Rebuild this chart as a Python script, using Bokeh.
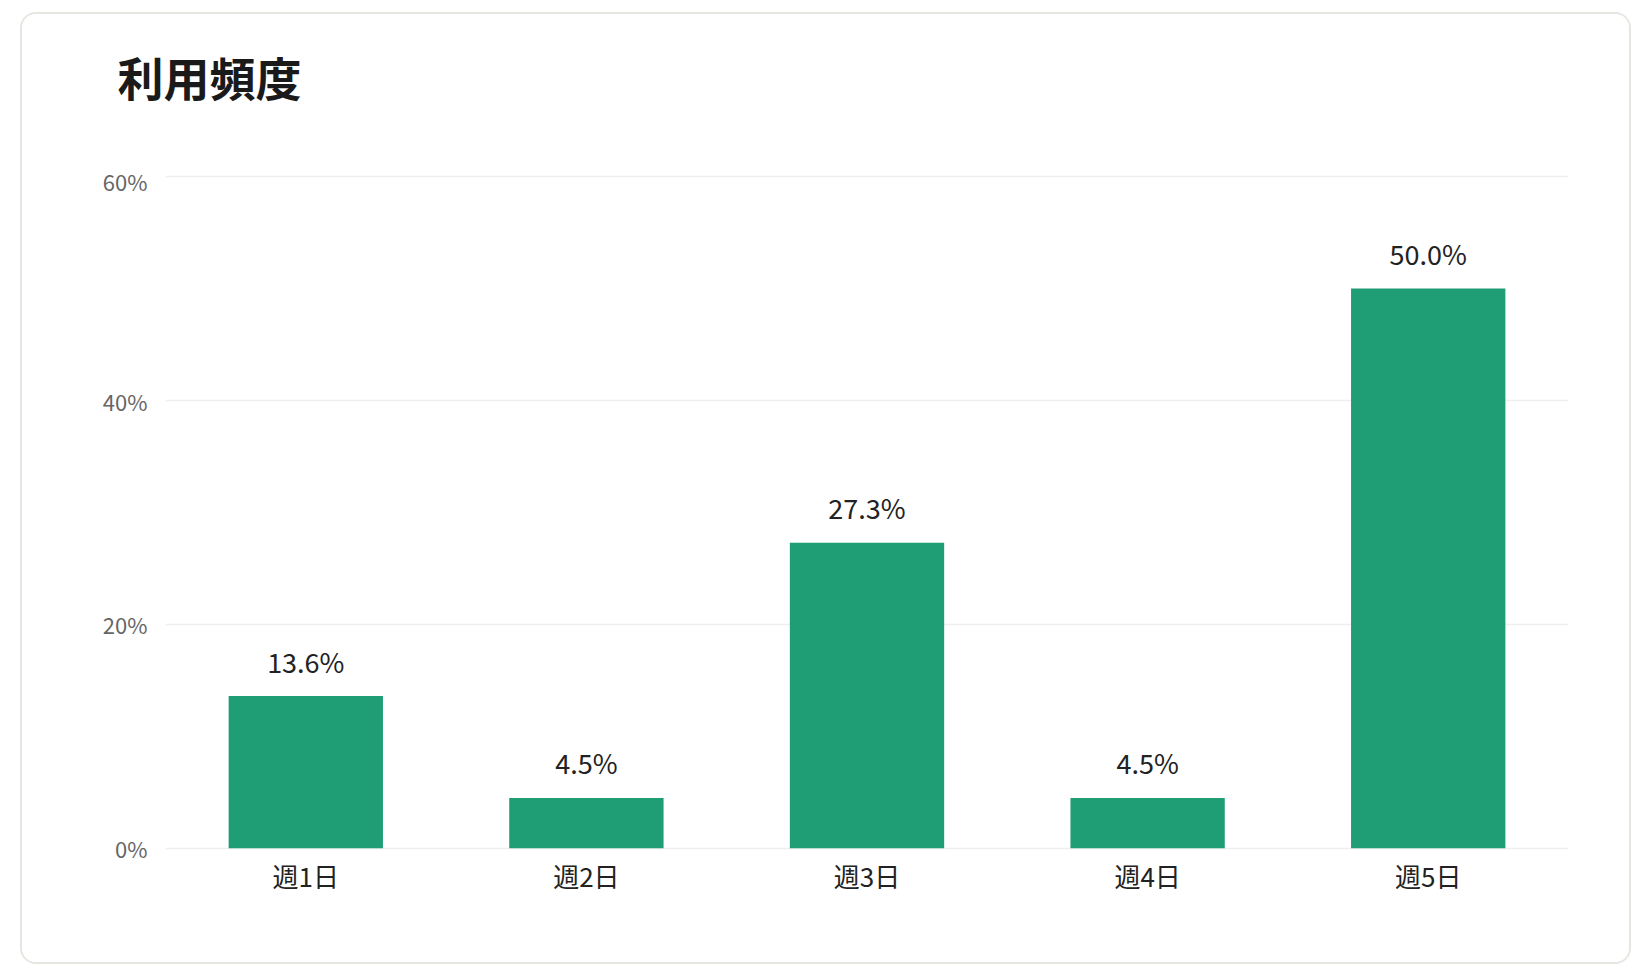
from bokeh.plotting import figure
from bokeh.layouts import column
from bokeh.models import FactorRange, Range1d, ColumnDataSource, FixedTicker, CustomJSTickFormatter
from bokeh.core.properties import value
from bokeh.embed import file_html
from bokeh.resources import INLINE

title_text = "利用頻度"
categories = ["週1日", "週2日", "週3日", "週4日", "週5日"]
percentages = [13.6, 4.5, 27.3, 4.5, 50.0]
y_ticks = [0, 20, 40, 60]

FONT = "Noto Sans CJK JP"
BAR_COLOR = "#1f9e76"

labels = [f"{v:.1f}%" for v in percentages]
src = ColumnDataSource(dict(cat=categories, val=percentages, lab=labels))

W = 1607
TH = 150
can_unalign = "frame_align" in figure().properties()

# title strip
t = figure(width=W, height=TH,
           x_range=Range1d(0, W if can_unalign else 1403), y_range=Range1d(0, TH),
           output_backend="svg", toolbar_location=None,
           min_border=0, min_border_left=0, min_border_right=0,
           min_border_top=0, min_border_bottom=0)
t.axis.visible = False
t.grid.visible = False
t.outline_line_color = None
t.background_fill_color = "white"
t.border_fill_color = "white"
t.text(x=[95 if can_unalign else 2], y=[TH - 61], text=[title_text],
       text_align="left", text_baseline="middle",
       text_font=value(FONT), text_font_size="46px", text_font_style="bold",
       text_color="#1a1a1a")

p = figure(
    width=W, height=948 - TH,
    x_range=FactorRange(*categories, range_padding=0),
    y_range=Range1d(-0.2, 61.0),
    output_backend="svg", toolbar_location=None,
    min_border_left=143, min_border_right=61,
    min_border_top=1, min_border_bottom=112,
)
if can_unalign:
    t.frame_align = False
    p.frame_align = False
p.outline_line_color = None
p.background_fill_color = "white"
p.border_fill_color = "white"

p.vbar(x="cat", top="val", bottom=0, width=0.55, source=src, fill_color=BAR_COLOR, line_color=None)
p.text(x="cat", y="val", text="lab", source=src, y_offset=-35,
       text_align="center", text_baseline="alphabetic",
       text_font=value(FONT), text_font_size="27px", text_color="#222222")

p.xgrid.grid_line_color = None
p.ygrid.grid_line_color = "#efefef"
p.ygrid.grid_line_width = 1.5
p.yaxis.ticker = FixedTicker(ticks=y_ticks)
p.yaxis.formatter = CustomJSTickFormatter(code="return tick + '%';")

for ax in (p.xaxis, p.yaxis):
    ax.axis_line_color = None
    ax.major_tick_line_color = None
    ax.minor_tick_line_color = None
    ax.major_tick_in = 0
    ax.major_tick_out = 0
    ax.major_label_text_font = FONT

p.yaxis.major_label_text_font_size = "22px"
p.yaxis.major_label_text_color = "#666666"
p.yaxis.major_label_standoff = 18
p.xaxis.major_label_text_font_size = "26px"
p.xaxis.major_label_text_color = "#222222"
p.xaxis.major_label_standoff = 6

card = column(t, p, spacing=0)
card.styles = {
    "margin-left": "20px", "margin-top": "12px",
    "border": "2px solid #e6e6e0", "border-radius": "16px",
    "overflow": "hidden", "box-sizing": "content-box",
    "background-color": "white",
}

open("out.html", "w").write(file_html(card, INLINE))
